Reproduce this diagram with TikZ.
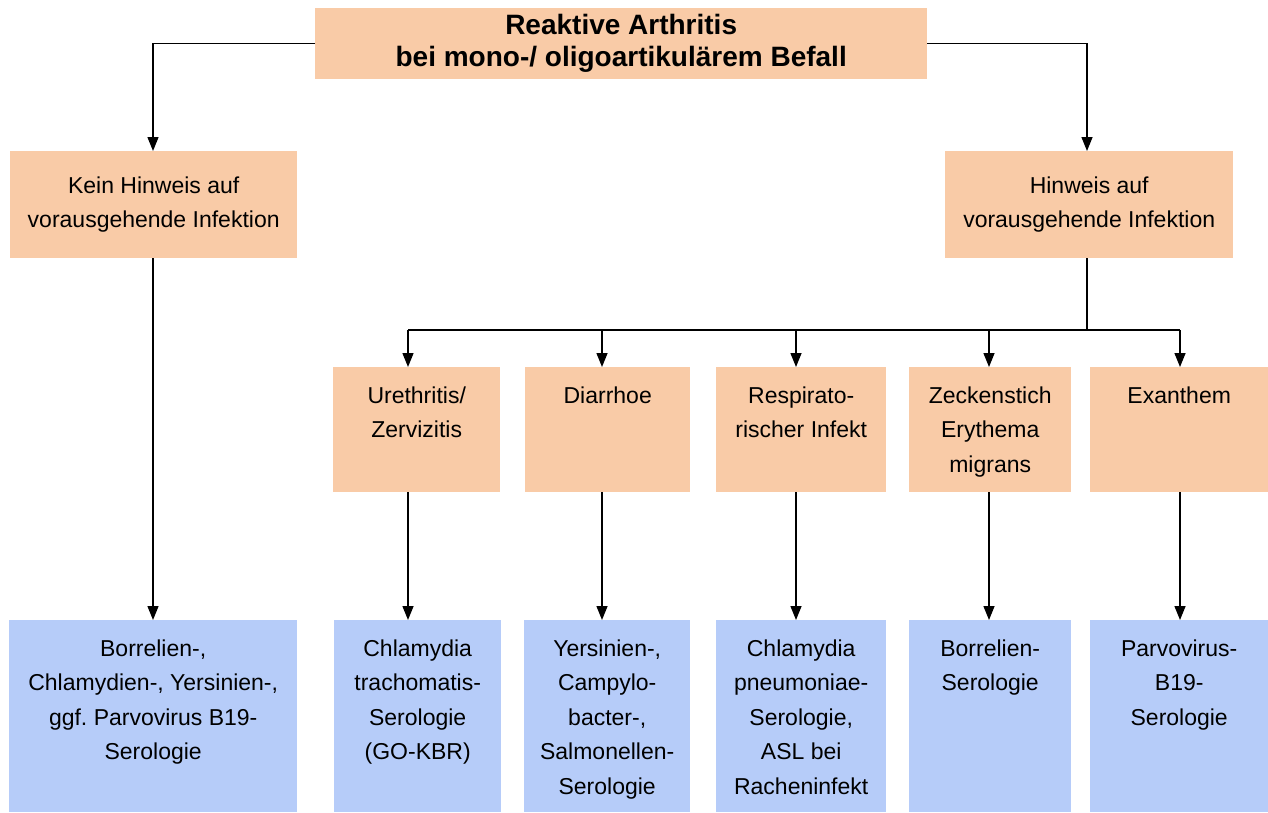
\documentclass[tikz,border=0pt]{standalone}
\usepackage{fontspec}
\setmainfont{Liberation Sans}
\usetikzlibrary{arrows.meta,calc}
\definecolor{orangeF}{HTML}{F9CBA7}
\definecolor{blueF}{HTML}{B6CCF9}
\frenchspacing
\begin{document}
\begin{tikzpicture}[x=1pt,y=-1pt,
  obox/.style={fill=orangeF,draw=none,inner sep=0,anchor=north west},
  bbox/.style={fill=blueF,draw=none,inner sep=0,anchor=north west},
  txt/.style={align=center,inner sep=0,anchor=north,font=\fontsize{23}{34.5}\selectfont},
  ctxt/.style={align=center,font=\fontsize{23}{34.5}\selectfont},
  arr/.style={line width=1.4pt,-{Triangle[length=14pt,width=11pt]}},
  ln/.style={line width=1.4pt}]
\useasboundingbox (0,0) rectangle (1268,812);
% top
\node[obox,minimum width=612pt,minimum height=71pt] (top) at (315,8) {};
\node[align=center,inner sep=0,font=\fontsize{28}{32}\selectfont\bfseries] (toptxt) at (top.center) {Reaktive Arthritis\\bei mono-/ oligoartikulärem Befall};
% second row
\node[obox,minimum width=287pt,minimum height=107pt] (L) at (10,151) {};
\node[ctxt] (Ltxt) at (L.center) {Kein Hinweis auf\\vorausgehende Infektion};
\node[obox,minimum width=288pt,minimum height=107pt] (R) at (945,151) {};
\node[ctxt] (Rtxt) at (R.center) {Hinweis auf\\vorausgehende Infektion};
% middle row
\node[obox,minimum width=167pt,minimum height=125pt] (u) at (333,367) {};
\node[obox,minimum width=165pt,minimum height=125pt] (d) at (525,367) {};
\node[obox,minimum width=170pt,minimum height=125pt] (r) at (716,367) {};
\node[obox,minimum width=162pt,minimum height=125pt] (z) at (909,367) {};
\node[obox,minimum width=178pt,minimum height=125pt] (e) at (1090,367) {};
\node[txt] (utxt) at ([yshift=-19.5pt]u.north) {Urethritis/\\Zervizitis};
\node[txt] (dtxt) at ([yshift=-19.5pt]d.north) {Diarrhoe};
\node[txt] (rtxt) at ([yshift=-19.5pt]r.north) {Respirato-\\rischer Infekt};
\node[txt] (ztxt) at ([yshift=-19.5pt]z.north) {Zeckenstich\\Erythema\\migrans};
\node[txt] (etxt) at ([yshift=-19.5pt]e.north) {Exanthem};
% bottom row
\node[bbox,minimum width=288pt,minimum height=192pt] (b0) at (9,620) {};
\node[bbox,minimum width=167pt,minimum height=192pt] (b1) at (334,620) {};
\node[bbox,minimum width=166pt,minimum height=192pt] (b2) at (524,620) {};
\node[bbox,minimum width=170pt,minimum height=192pt] (b3) at (716,620) {};
\node[bbox,minimum width=162pt,minimum height=192pt] (b4) at (909,620) {};
\node[bbox,minimum width=178pt,minimum height=192pt] (b5) at (1090,620) {};
\node[txt] (b0txt) at ([yshift=-19.5pt]b0.north) {Borrelien-,\\Chlamydien-, Yersinien-,\\ggf.\ Parvovirus B19-\\Serologie};
\node[txt] (b1txt) at ([yshift=-19.5pt]b1.north) {Chlamydia\\trachomatis-\\Serologie\\(GO-KBR)};
\node[txt] (b2txt) at ([yshift=-19.5pt]b2.north) {Yersinien-,\\Campylo-\\bacter-,\\Salmonellen-\\Serologie};
\node[txt] (b3txt) at ([yshift=-19.5pt]b3.north) {Chlamydia\\pneumoniae-\\Serologie,\\ASL bei\\Racheninfekt};
\node[txt] (b4txt) at ([yshift=-19.5pt]b4.north) {Borrelien-\\Serologie};
\node[txt] (b5txt) at ([yshift=-19.5pt]b5.north) {Parvovirus-\\B19-\\Serologie};
% helper coordinates
\coordinate (bar) at (0,330);
\coordinate (xu) at (408,0);
\coordinate (xd) at (602,0);
\coordinate (xr) at (796,0);
\coordinate (xz) at (989,0);
\coordinate (xe) at (1180,0);
\coordinate (xL) at (153,0);
\coordinate (xR) at (1087,0);
% connectors
\draw[arr] (top.west) -| (L.north -| xL);
\draw[arr] (top.east) -| (R.north -| xR);
\draw[arr] (L.south -| xL) -- (b0.north -| xL);
\draw[ln] (R.south -| xR) -- (bar -| xR);
\draw[ln] (bar -| xu) -- (bar -| xe);
\foreach \a/\b/\c in {xu/u/b1,xd/d/b2,xr/r/b3,xz/z/b4,xe/e/b5}{
  \draw[arr] (bar -| \a) -- (\b.north -| \a);
  \draw[arr] (\b.south -| \a) -- (\c.north -| \a);
}
\end{tikzpicture}
\end{document}
